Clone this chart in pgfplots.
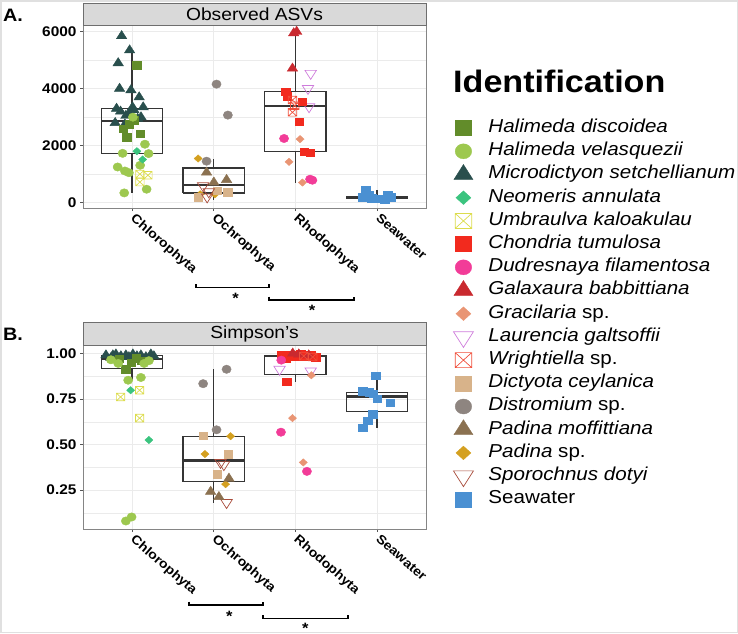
\documentclass[border=0pt]{standalone}
\usepackage{fontspec}
\setmainfont{Liberation Sans}[FakeStretch=1.1]
\usepackage{pgfplots}
\pgfplotsset{compat=1.18}

\pgfdeclareplotmark{boxx}{%
  \pgfpathrectangle{\pgfqpoint{-\pgfplotmarksize}{-\pgfplotmarksize}}{\pgfqpoint{2\pgfplotmarksize}{2\pgfplotmarksize}}%
  \pgfpathmoveto{\pgfqpoint{-\pgfplotmarksize}{-\pgfplotmarksize}}\pgfpathlineto{\pgfqpoint{\pgfplotmarksize}{\pgfplotmarksize}}%
  \pgfpathmoveto{\pgfqpoint{-\pgfplotmarksize}{\pgfplotmarksize}}\pgfpathlineto{\pgfqpoint{\pgfplotmarksize}{-\pgfplotmarksize}}%
  \pgfusepathqstroke}

\definecolor{cHD}{HTML}{628C2A}
\definecolor{cHV}{HTML}{9DC84F}
\definecolor{cMS}{HTML}{294F4D}
\definecolor{cNA}{HTML}{3BC47F}
\definecolor{cUK}{HTML}{DCDC4C}
\definecolor{cCT}{HTML}{F22A1E}
\definecolor{cDF}{HTML}{F23C98}
\definecolor{cGB}{HTML}{C9292F}
\definecolor{cGR}{HTML}{E99574}
\definecolor{cLG}{HTML}{CE7CDB}
\definecolor{cWR}{HTML}{F04E3A}
\definecolor{cDC}{HTML}{D8B38A}
\definecolor{cDI}{HTML}{8E8580}
\definecolor{cPM}{HTML}{8B7150}
\definecolor{cPS}{HTML}{D4A020}
\definecolor{cSD}{HTML}{A84B3A}
\definecolor{cSW}{HTML}{4A90D2}
\definecolor{gridc}{HTML}{EBEBEB}
\definecolor{framec}{HTML}{858585}
\definecolor{tickc}{HTML}{555555}
\definecolor{boxc}{HTML}{353535}
\definecolor{stripfill}{HTML}{D9D9D9}
\definecolor{stripc}{HTML}{6E6E6E}

\newcommand{\sigast}{\raisebox{0pt}[\height][-0.4em]{*}}

\pgfplotsset{
  panel/.style={
    scale only axis, width=343pt,
    xmin=0.4, xmax=4.6, xtick={1,2,3,4},
    xticklabels={Chlorophyta,Ochrophyta,Rhodophyta,Seawater},
    xticklabel style={xshift=4pt, rotate=-41, anchor=north west, font=\bfseries\fontsize{12.8}{14}\selectfont, inner sep=1pt},
    yticklabel style={font=\bfseries\fontsize{14}{16}\selectfont},
    xmajorgrids, ymajorgrids, yminorgrids,
    major grid style={draw=gridc, line width=0.9pt},
    minor grid style={draw=gridc, line width=0.5pt},
    axis line style={draw=framec, line width=0.9pt},
    tick style={draw=tickc, line width=0.8pt},
    tick align=outside, major tick length=3pt, minor tick length=0pt,
    tick pos=left,
  },
  bxl/.style={draw=boxc, line width=1.15pt, mark=none, forget plot, line join=miter},
  bxm/.style={draw=boxc, line width=2.5pt, mark=none, forget plot},
  sHD/.style={only marks, mark=square*, color=cHD, mark size=3.8pt, mark options={xscale=1.1}},
  sHV/.style={only marks, mark=*, color=cHV, mark size=4.2pt, mark options={xscale=1.1}},
  sMS/.style={only marks, mark=triangle*, color=cMS, mark size=5.5pt, mark options={xscale=1.1}},
  sNA/.style={only marks, mark=square*, color=cNA, mark size=2.6pt, mark options={xscale=1.1, rotate=45}},
  sUK/.style={only marks, mark=boxx, color=cUK, mark size=3.8pt, mark options={xscale=1.1, line width=0.7pt}},
  sCT/.style={only marks, mark=square*, color=cCT, mark size=3.8pt, mark options={xscale=1.1}},
  sDF/.style={only marks, mark=*, color=cDF, mark size=4.2pt, mark options={xscale=1.1}},
  sGB/.style={only marks, mark=triangle*, color=cGB, mark size=5.5pt, mark options={xscale=1.1}},
  sGR/.style={only marks, mark=square*, color=cGR, mark size=2.6pt, mark options={xscale=1.1, rotate=45}},
  sLG/.style={only marks, mark=triangle, color=cLG, mark size=6pt, mark options={xscale=1.1, rotate=180, line width=0.7pt}},
  sWR/.style={only marks, mark=boxx, color=cWR, mark size=3.8pt, mark options={xscale=1.1, line width=0.7pt}},
  sDC/.style={only marks, mark=square*, color=cDC, mark size=3.8pt, mark options={xscale=1.1}},
  sDI/.style={only marks, mark=*, color=cDI, mark size=4.2pt, mark options={xscale=1.1}},
  sPM/.style={only marks, mark=triangle*, color=cPM, mark size=5.5pt, mark options={xscale=1.1}},
  sPS/.style={only marks, mark=square*, color=cPS, mark size=2.6pt, mark options={xscale=1.1, rotate=45}},
  sSD/.style={only marks, mark=triangle, color=cSD, mark size=6pt, mark options={xscale=1.1, rotate=180, line width=0.7pt}},
  sSW/.style={only marks, mark=square*, color=cSW, mark size=3.8pt, mark options={xscale=1.1}},
}

\begin{document}
\begin{tikzpicture}
\useasboundingbox (0pt,0pt) rectangle (738pt,-633pt);
\draw[draw=black!12, line width=1.5pt] (0.75pt,-0.75pt) rectangle (737.25pt,-632.25pt);

% ---------------- Panel A ----------------
\begin{axis}[panel, at={(83pt,-25pt)}, anchor=north west, height=183pt,
  ymin=-190, ymax=6236, ytick={0,2000,4000,6000}, yticklabels={0,2000,4000,6000},
  minor ytick={1000,3000,5000},
  legend style={at={(1.08,0.5)}, anchor=north west, draw=none, fill=none, inner sep=0pt, outer sep=0pt,
    font=\fontsize{18.7}{22}\selectfont, row sep=0pt, column sep=15pt,
    nodes={inner xsep=0pt, inner ysep=0pt, text height=16pt, text depth=7.2pt}},
  legend cell align=left]
\addplot[sMS, forget plot] coordinates {(0.873,5850) (0.971,5350) (0.831,4900) (0.848,4000) (0.987,3950) (1.088,3700) (1.137,3350) (0.811,3300) (0.860,3200) (1.007,3350) (0.966,3150) (1.069,2950) (0.794,2800) (0.925,3050) (1.023,3250) (0.913,2750) (1.11,3000)};
\addplot[sHD, forget plot] coordinates {(1.056,4830) (0.934,2300) (1.097,2420) (0.892,2600) (1.023,2900) (0.962,2750)};
\addplot[sHV, forget plot] coordinates {(1.158,2050) (1.203,1720) (0.885,1730) (0.824,1250) (0.913,1110) (0.962,1050) (1.100,1310) (1.179,470) (0.905,340) (1.011,3000)};
\addplot[sNA, forget plot] coordinates {(1.060,1805) (1.130,1512)};
\addplot[sUK, forget plot] coordinates {(1.097,1000) (1.195,960) (1.097,720)};
\addplot[sDI, forget plot] coordinates {(2.035,4160) (2.174,3072) (1.913,1454)};
\addplot[sPS, forget plot] coordinates {(1.810,1548) (1.835,292) (2.015,290)};
\addplot[sPM, forget plot] coordinates {(1.913,1060) (2.002,710) (2.158,800)};
\addplot[sDC, forget plot] coordinates {(1.810,200) (2.170,360) (2.04,420)};
\addplot[sSD, forget plot] coordinates {(1.871,590) (1.920,200) (1.94,380)};
\addplot[sGB, forget plot] coordinates {(2.980,5950) (2.965,4710) (3.017,6000)};
\addplot[sLG, forget plot] coordinates {(3.188,4537) (3.155,4009) (3.168,3365)};
\addplot[sCT, forget plot] coordinates {(2.882,3892) (2.903,3740) (3.087,3540) (3.045,2837) (3.106,1782) (3.180,1759)};
\addplot[sWR, forget plot] coordinates {(2.965,3600) (2.965,3170) (2.993,3400)};
\addplot[sDF, forget plot] coordinates {(2.862,2251) (3.180,821) (3.209,786)};
\addplot[sGR, forget plot] coordinates {(3.058,2228) (2.923,1431) (3.087,704)};
\addplot[sSW, forget plot] coordinates {(3.862,430) (3.825,200) (3.935,150) (4.058,130) (4.131,260) (4.168,200) (3.898,280) (4.094,110)};
% boxes: Chlorophyta
\addplot[bxl] coordinates {(0.625,1720) (1.375,1720) (1.375,3300) (0.625,3300) (0.625,1720)};
\addplot[bxl] coordinates {(1,1720) (1,340)};
\addplot[bxl] coordinates {(1,3300) (1,5350)};
\addplot[bxm] coordinates {(0.625,2870) (1.375,2870)};
% Ochrophyta
\addplot[bxl] coordinates {(1.625,338) (2.375,338) (2.375,1217) (1.625,1217) (1.625,338)};
\addplot[bxl] coordinates {(2,338) (2,100)};
\addplot[bxl] coordinates {(2,1217) (2,1548)};
\addplot[bxm] coordinates {(1.625,620) (2.375,620)};
% Rhodophyta
\addplot[bxl] coordinates {(2.625,1780) (3.375,1780) (3.375,3890) (2.625,3890) (2.625,1780)};
\addplot[bxl] coordinates {(3,1780) (3,704)};
\addplot[bxl] coordinates {(3,3890) (3,6050)};
\addplot[bxm] coordinates {(2.625,3398) (3.375,3398)};
% Seawater
\addplot[bxl] coordinates {(3.625,150) (4.375,150) (4.375,210) (3.625,210) (3.625,150)};
\addplot[bxl] coordinates {(4,150) (4,60)};
\addplot[bxl] coordinates {(4,210) (4,430)};
\addplot[bxm] coordinates {(3.625,180) (4.375,180)};
% legend
\addlegendimage{sHD, mark size=7.5pt}\addlegendentry{\itshape Halimeda discoidea}
\addlegendimage{sHV, mark size=7.5pt}\addlegendentry{\itshape Halimeda velasquezii}
\addlegendimage{sMS, mark size=10pt}\addlegendentry{\itshape Microdictyon setchellianum}
\addlegendimage{sNA, mark size=4.8pt}\addlegendentry{\itshape Neomeris annulata}
\addlegendimage{sUK, mark size=7.5pt}\addlegendentry{\itshape Umbraulva kaloakulau}
\addlegendimage{sCT, mark size=7.5pt}\addlegendentry{\itshape Chondria tumulosa}
\addlegendimage{sDF, mark size=7.5pt}\addlegendentry{\itshape Dudresnaya filamentosa}
\addlegendimage{sGB, mark size=10pt}\addlegendentry{\itshape Galaxaura babbittiana}
\addlegendimage{sGR, mark size=4.8pt}\addlegendentry{{\itshape Gracilaria} sp.}
\addlegendimage{sLG, mark size=10.5pt}\addlegendentry{\itshape Laurencia galtsoffii}
\addlegendimage{sWR, mark size=7.5pt}\addlegendentry{{\itshape Wrightiella} sp.}
\addlegendimage{sDC, mark size=7.5pt}\addlegendentry{\itshape Dictyota ceylanica}
\addlegendimage{sDI, mark size=7.5pt}\addlegendentry{{\itshape Distromium} sp.}
\addlegendimage{sPM, mark size=10pt}\addlegendentry{{\itshape Padina} {\itshape moffittiana}}
\addlegendimage{sPS, mark size=4.8pt}\addlegendentry{{\itshape Padina} sp.}
\addlegendimage{sSD, mark size=10.5pt}\addlegendentry{\itshape Sporochnus dotyi}
\addlegendimage{sSW, mark size=7.5pt}\addlegendentry{Seawater}
\end{axis}

% ---------------- Panel B ----------------
\begin{axis}[panel, at={(83pt,-345pt)}, anchor=north west, height=184pt,
  ymin=0.037, ymax=1.046, ytick={0.25,0.5,0.75,1}, yticklabels={0.25,0.50,0.75,1.00},
  minor ytick={0.125,0.375,0.625,0.875}]
\addplot[sMS, forget plot] coordinates {(0.681,0.99) (0.742,0.975) (0.803,0.995) (0.864,0.985) (0.925,0.99) (0.962,0.98) (1.011,0.995) (1.060,0.985) (1.109,0.99) (1.170,0.98) (1.231,0.995) (1.268,0.985) (0.766,0.99) (1.084,0.97)};
\addplot[sHD, forget plot] coordinates {(0.922,0.915) (0.987,0.95) (1.109,0.96) (0.840,0.97) (1.048,0.975)};
\addplot[sHV, forget plot] coordinates {(0.831,0.945) (1.149,0.945) (0.953,0.853) (1.109,0.868) (0.995,0.103) (0.925,0.081) (1.207,0.96) (0.742,0.965)};
\addplot[sNA, forget plot] coordinates {(0.983,0.798) (1.207,0.525)};
\addplot[sUK, forget plot] coordinates {(1.093,0.798) (0.860,0.761) (1.093,0.645)};
\addplot[sDI, forget plot] coordinates {(2.158,0.913) (1.871,0.834) (2.035,0.581)};
\addplot[sDC, forget plot] coordinates {(1.871,0.549) (2.178,0.448) (2.043,0.338)};
\addplot[sPS, forget plot] coordinates {(2.207,0.546) (1.893,0.448) (2.146,0.283)};
\addplot[sSD, forget plot] coordinates {(2.084,0.402) (2.125,0.39) (2.158,0.182)};
\addplot[sPM, forget plot] coordinates {(2.187,0.314) (1.963,0.242) (2.064,0.213)};
\addplot[sCT, forget plot] coordinates {(2.823,0.99) (2.883,0.975) (2.944,0.99) (3.005,0.985) (3.066,0.995) (3.127,0.985) (3.188,0.99) (3.250,0.98) (2.895,0.844)};
\addplot[sGB, forget plot] coordinates {(3.042,0.995) (3.164,0.99) (2.968,1.0)};
\addplot[sWR, forget plot] coordinates {(3.103,0.985) (3.213,0.98)};
\addplot[sLG, forget plot] coordinates {(2.807,0.913) (3.188,0.904)};
\addplot[sGR, forget plot] coordinates {(3.196,0.88) (2.965,0.645) (3.097,0.402)};
\addplot[sDF, forget plot] coordinates {(2.824,0.568) (3.142,0.353) (2.828,0.963)};
\addplot[sSW, forget plot] coordinates {(3.984,0.877) (3.824,0.794) (3.905,0.788) (4.005,0.752) (4.161,0.73) (3.946,0.665) (3.885,0.632) (3.824,0.592) (3.852,0.79) (3.95,0.78)};
% boxes
\addplot[bxl] coordinates {(0.625,0.917) (1.375,0.917) (1.375,0.987) (0.625,0.987) (0.625,0.917)};
\addplot[bxl] coordinates {(1,0.917) (1,0.853)};
\addplot[bxm] coordinates {(0.625,0.969) (1.375,0.969)};
\addplot[bxl] coordinates {(1.625,0.296) (2.375,0.296) (2.375,0.546) (1.625,0.546) (1.625,0.296)};
\addplot[bxl] coordinates {(2,0.296) (2,0.182)};
\addplot[bxl] coordinates {(2,0.546) (2,0.913)};
\addplot[bxm] coordinates {(1.625,0.412) (2.375,0.412)};
\addplot[bxl] coordinates {(2.625,0.884) (3.375,0.884) (3.375,0.987) (2.625,0.987) (2.625,0.884)};
\addplot[bxl] coordinates {(3,0.884) (3,0.844)};
\addplot[bxm] coordinates {(2.625,0.985) (3.375,0.985)};
\addplot[bxl] coordinates {(3.625,0.682) (4.375,0.682) (4.375,0.785) (3.625,0.785) (3.625,0.682)};
\addplot[bxl] coordinates {(4,0.682) (4,0.592)};
\addplot[bxl] coordinates {(4,0.785) (4,0.877)};
\addplot[bxm] coordinates {(3.625,0.765) (4.375,0.765)};
\end{axis}

% strips
\draw[draw=stripc, fill=stripfill, line width=1pt] (83pt,-3pt) rectangle (426pt,-25pt);
\node at (254.5pt,-14pt) {\fontsize{17.5}{20}\selectfont Observed ASVs};
\draw[draw=stripc, fill=stripfill, line width=1pt] (83pt,-322pt) rectangle (426pt,-345pt);
\node at (254.5pt,-333.5pt) {\fontsize{17.5}{20}\selectfont Simpson's};

% panel letters
\node[anchor=west, inner sep=0pt] at (3pt,-15pt) {\bfseries\fontsize{18}{20}\selectfont A.};
\node[anchor=west, inner sep=0pt] at (3pt,-334pt) {\bfseries\fontsize{18}{20}\selectfont B.};

% legend title
\node[anchor=base west, inner sep=0pt] at (453pt,-92.5pt) {\bfseries\fontsize{31}{34}\selectfont Identification};

% significance brackets
\begin{scope}[every node/.style={inner sep=0pt, font=\bfseries\fontsize{15}{16}\selectfont}]
\draw[line width=1.7pt] (195.7pt,-284pt) -- (195.7pt,-287.5pt) -- (269.3pt,-287.5pt) -- (269.3pt,-284pt);
\node at (235.7pt,-298.3pt) {\sigast};
\draw[line width=1.7pt] (269.3pt,-296.7pt) -- (269.3pt,-300pt) -- (354pt,-300pt) -- (354pt,-296.7pt);
\node at (312pt,-310.7pt) {\sigast};
\draw[line width=1.7pt] (189pt,-601.7pt) -- (189pt,-605pt) -- (263.3pt,-605pt) -- (263.3pt,-601.7pt);
\node at (229.3pt,-616.7pt) {\sigast};
\draw[line width=1.7pt] (263.3pt,-615pt) -- (263.3pt,-618.5pt) -- (347.7pt,-618.5pt) -- (347.7pt,-615pt);
\node at (305.3pt,-628.3pt) {\sigast};
\end{scope}
\end{tikzpicture}
\end{document}
